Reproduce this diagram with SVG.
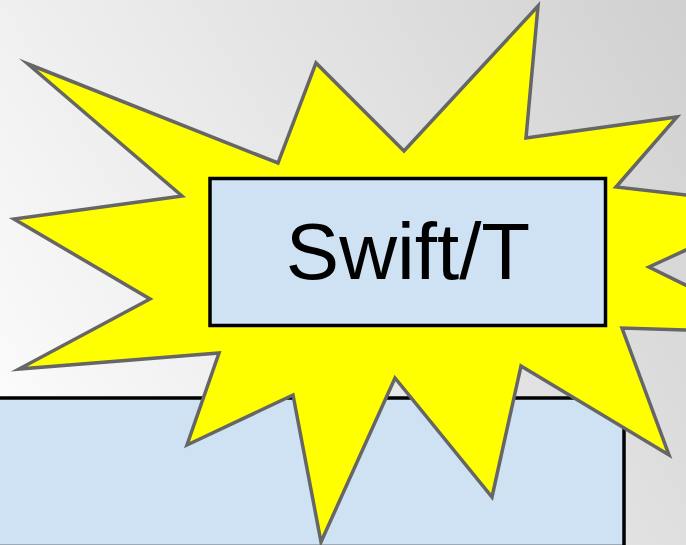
<svg xmlns="http://www.w3.org/2000/svg" width="686" height="545" viewBox="0 0 686 545">
  <defs>
    <linearGradient id="bg" gradientUnits="userSpaceOnUse" x1="0" y1="545" x2="747" y2="105">
      <stop offset="0" stop-color="#ffffff"/>
      <stop offset="1" stop-color="#d0d0d0"/>
    </linearGradient>
  </defs>
  <style>
    .box { fill: #cfe2f3; stroke: #000000; stroke-width: 3.5; }
    .star { fill: #ffff00; stroke: #666666; stroke-width: 3.5; stroke-linejoin: miter; stroke-miterlimit: 10; }
    .label { font-family: "Liberation Sans", Arial, sans-serif; font-size: 80px; fill: #000000; text-anchor: middle; }
  </style>
  <rect x="0" y="0" width="686" height="545" fill="url(#bg)"/>
  <g id="base-box">
    <rect class="box" x="-5" y="398" width="629" height="148.5"/>
  </g>
  <g id="starburst">
    <polygon class="star" points="28,64 278,163 316,63 404,151 538,6 526,138 677,117 616,187 782,206 649,267 783,333 622,328 669,455 521,366 492,497 395,378 321,542 293,395 187,445 219,353 19,369 150,299 14,219 182,196"/>
  </g>
  <g id="swift-t">
    <rect class="box" x="210" y="178.5" width="395.5" height="147"/>
    <text class="label" x="408" y="279">Swift/T</text>
  </g>
  <g id="connectors"/>
</svg>
